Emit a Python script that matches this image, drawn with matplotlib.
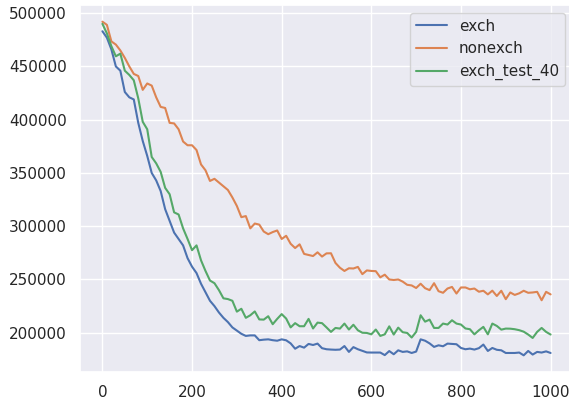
import matplotlib
matplotlib.use("Agg")
import matplotlib.pyplot as plt
import seaborn as sns
import numpy as np

steps = list(range(0, 1001, 10))

exch = [483000, 477000, 466000, 450000, 446000, 426000, 421000, 419000, 397000, 380000,
        366000, 350000, 343000, 333000, 316000, 305000, 294000, 288000, 282000, 270000,
        262000, 256000, 246000, 238000, 230000, 225000, 219000, 214000, 210000, 205000,
        202000, 199000, 197000, 197500, 197500, 193000, 193500, 193800, 193000, 192500,
        193800, 192900, 190000, 185000, 187500, 186000, 189500, 188500, 189800, 185500,
        184500, 184200, 184000, 184200, 187500, 182000, 186500, 184500, 183000, 181500,
        181400, 181400, 181400, 179000, 182800, 179800, 183500, 182000, 182500, 181000,
        182300, 193800, 192500, 190000, 186700, 188200, 187300, 189800, 189500, 189200,
        185700, 184500, 185100, 184200, 185500, 188900, 182900, 185700, 184000, 183500,
        181000, 181000, 181000, 181400, 178800, 182900, 179500, 182000, 181400, 182500,
        181000]

nonexch = [492000, 489000, 473500, 470500, 465000, 458000, 450000, 443000, 441000, 428000,
           434000, 432000, 421000, 412000, 411000, 397000, 396500, 391000, 379500, 376000,
           376000, 371500, 358000, 352500, 342500, 344500, 341000, 337500, 334000, 327000,
           319000, 308500, 309500, 298000, 302500, 301500, 295000, 292500, 294500, 296000,
           288000, 291000, 283500, 279500, 283000, 274000, 273000, 272000, 275500, 271500,
           274500, 274600, 265500, 261000, 258000, 260500, 260300, 261800, 255000, 258500,
           258000, 257800, 252000, 254500, 250000, 249500, 250000, 248000, 245000, 244400,
           242000, 246000, 241800, 240000, 246500, 239000, 237500, 241500, 243000, 236800,
           242500, 242500, 240800, 241500, 238500, 239400, 236000, 239500, 234500, 239400,
           231500, 237800, 235500, 237000, 239400, 237500, 237800, 238400, 230500, 238400,
           236000]

exch_test_40 = [490000, 481000, 469000, 459500, 462000, 446000, 442000, 437000, 420000, 398000,
                391000, 365000, 359000, 351000, 336000, 330000, 313000, 311000, 298000, 288000,
                277500, 282000, 268000, 258000, 249000, 246500, 240000, 232300, 231600, 230000,
                219800, 222500, 214000, 216400, 220000, 212500, 212300, 215500, 208000, 213000,
                217500, 213300, 205000, 209000, 206100, 206100, 213000, 204000, 209500, 209000,
                205000, 200800, 204500, 203900, 208600, 203000, 207500, 202300, 200000, 199800,
                198500, 203000, 197000, 198500, 206000, 198300, 204800, 200500, 199800, 195500,
                200800, 216400, 210400, 212300, 204500, 204500, 208600, 207700, 211700, 208600,
                207700, 204000, 203300, 198500, 202300, 205500, 198500, 208600, 206400, 202900,
                203900, 203800, 203300, 202400, 201000, 198300, 195100, 200800, 204500, 200800,
                198300]

sns.set_theme(style="darkgrid")
plt.rcParams['font.family'] = ['DejaVu Sans']

fig = plt.figure(figsize=(5.69, 4.0), dpi=100)
ax = fig.add_axes([80/569, 28/400, (573-80)/569, (372-5)/400])
ax.plot(steps, exch, label="exch")
ax.plot(steps, nonexch, label="nonexch")
ax.plot(steps, exch_test_40, label="exch_test_40")
ax.set_xticks([0, 200, 400, 600, 800, 1000])
ax.set_yticks([200000, 250000, 300000, 350000, 400000, 450000, 500000])
ax.legend(loc="upper right")
fig.savefig("out.png", dpi=100)
